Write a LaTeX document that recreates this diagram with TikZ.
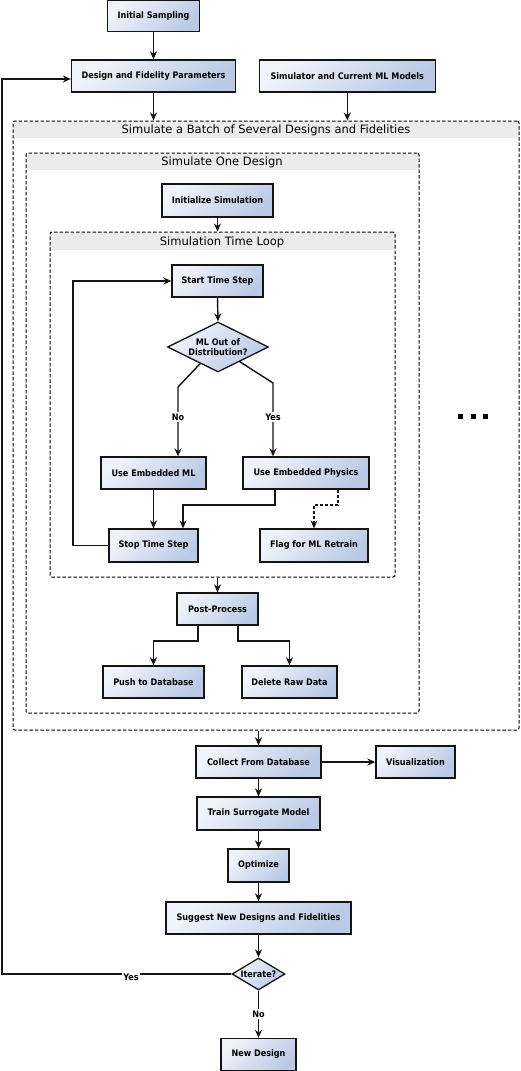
\documentclass[tikz,border=0pt]{standalone}
\usepackage{fontspec}
\setmainfont{DejaVu Sans}
\newfontfamily\nodefont{DejaVu Sans Condensed}
\usetikzlibrary{shapes.geometric,arrows.meta,calc}
\definecolor{boxL}{HTML}{F0F3FA}
\definecolor{boxR}{HTML}{BACAE6}
\definecolor{band}{HTML}{EBEBEB}
\definecolor{edge}{HTML}{141414}
\begin{document}
\begin{tikzpicture}[x=1pt,y=-1pt,
  font=\nodefont\bfseries\fontsize{9}{10.5}\selectfont,
  box/.style={draw=edge, line width=1.3pt, top color=boxL, bottom color=boxR, shading angle=45, inner sep=0pt, align=center, text=black},
  dec/.style={box, shape=diamond},
  grp/.style={draw=black, line width=1pt, dash pattern=on 3.5pt off 2pt, rounded corners=2pt, inner sep=0pt},
  ttl/.style={font=\normalfont\fontsize{11.5}{13}\selectfont, inner sep=0pt},
  arr/.style={draw=edge, line width=1.4pt, -{Stealth[length=8pt,width=7pt]}},
  dsh/.style={line width=1.1pt, dash pattern=on 3pt off 2pt},
  lbl/.style={fill=white, inner sep=1.5pt}
]
\useasboundingbox (0,0) rectangle (520,1071);
\fill[white] (0,0) rectangle (520,1071);

% group bands
\fill[band] (13.5,121.5) rectangle (518.5,138);
\fill[band] (26.5,153.5) rectangle (418.5,170);
\fill[band] (50.5,232.5) rectangle (394.5,250);

% group boxes
\node[grp, minimum width=506pt, minimum height=609pt] (outer) at (266,425.5) {};
\node[grp, minimum width=393pt, minimum height=560pt] (one) at (222.5,433) {};
\node[grp, minimum width=345pt, minimum height=345pt] (loop) at (222.5,404.5) {};
\node[ttl] (outerT) at (266,130) {Simulate a Batch of Several Designs and Fidelities};
\node[ttl] (oneT) at (222,162) {Simulate One Design};
\node[ttl] (loopT) at (222,242) {Simulation Time Loop};

% top boxes
\node[box, minimum width=92pt, minimum height=31pt] (init) at (153.5,16) {Initial Sampling};
\node[box, minimum width=164pt, minimum height=32pt] (dfp) at (153.5,76) {Design and Fidelity Parameters};
\node[box, minimum width=176pt, minimum height=32pt] (sim) at (347.3,76) {Simulator and Current ML Models};

% inside
\node[box, minimum width=111pt, minimum height=33pt] (initsim) at (217.5,200.5) {Initialize Simulation};
\node[box, minimum width=91pt, minimum height=32pt] (start) at (217.5,281) {Start Time Step};
\node[dec, minimum width=101pt, minimum height=50pt, shape aspect=2] (dia) at (218,347) {ML Out of\\Distribution?};
\node[box, minimum width=105pt, minimum height=32pt] (ml) at (153.5,473) {Use Embedded ML};
\node[box, minimum width=126pt, minimum height=32pt] (phys) at (306,473) {Use Embedded Physics};
\node[box, minimum width=89pt, minimum height=33pt] (stop) at (153.5,545.5) {Stop Time Step};
\node[box, minimum width=108pt, minimum height=33pt] (flag) at (314,545.5) {Flag for ML Retrain};
\node[box, minimum width=81pt, minimum height=32pt] (post) at (217.5,609) {Post-Process};
\node[box, minimum width=101pt, minimum height=32pt] (push) at (153.5,682) {Push to Database};
\node[box, minimum width=95pt, minimum height=32pt] (del) at (289.5,682) {Delete Raw Data};

% bottom
\node[box, minimum width=125pt, minimum height=32pt] (collect) at (258.5,762) {Collect From Database};
\node[box, minimum width=79pt, minimum height=32pt] (vis) at (415.5,762) {Visualization};
\node[box, minimum width=123pt, minimum height=33pt] (train) at (258.5,813.5) {Train Surrogate Model};
\node[box, minimum width=61pt, minimum height=33pt] (opt) at (258.5,865.5) {Optimize};
\node[box, minimum width=185pt, minimum height=32pt] (sug) at (258.5,918) {Suggest New Designs and Fidelities};
\node[dec, minimum width=53pt, minimum height=32pt, shape aspect=1.66] (iter) at (258.5,974) {Iterate?};
\node[box, minimum width=75pt, minimum height=32pt] (new) at (258.5,1054.5) {New Design};

% dots
\fill[black] (458,414) rectangle (463,419);
\fill[black] (471,414) rectangle (476,419);
\fill[black] (483,414) rectangle (488,419);

% connectors
\draw[arr] (init.south) -- (dfp.north);
\draw[arr] (dfp.south) -- (dfp.south |- outer.north);
\draw[arr] (sim.south) -- (sim.south |- outer.north);
\draw[arr] (initsim.south) -- (initsim.south |- loop.north);
\draw[arr] (start.south) -- (dia.north);

\coordinate (nb) at (178,387);
\coordinate (yb) at (273,383);
\draw[arr] (dia.223) -- (nb) -- (nb |- ml.north);
\draw[arr] (dia.326) -- (yb) -- (yb |- phys.north);
\node[lbl] (nolbl) at (178,417) {No};
\node[lbl] (yeslbl) at (273,417) {Yes};

\draw[arr] (ml.south) -- (stop.north);
\coordinate (p1) at (275,505);
\coordinate (p2) at (183,505);
\draw[arr, line width=1.1pt] (phys.south -| p1) -- (p1) -- (p2) -- (p2 |- stop.north);
\coordinate (f1) at (338,505);
\draw[arr, dsh] (phys.south -| f1) -- (f1) -| (flag.north);
\coordinate (lp) at (73,545.5);
\draw[arr] (stop.west) -- (lp) |- (start.west);

\draw[arr] (post.north |- loop.south) -- (post.north);
\coordinate (q1) at (198,641);
\coordinate (q2) at (238,641);
\draw[arr] (post.south -| q1) -- (q1) -| (push.north);
\draw[arr] (post.south -| q2) -- (q2) -| (del.north);

\draw[arr] (collect.north |- outer.south) -- (collect.north);
\draw[arr] (collect.east) -- (vis.west);
\draw[arr] (collect.south) -- (train.north);
\draw[arr] (train.south) -- (opt.north);
\draw[arr] (opt.south) -- (sug.north);
\draw[arr] (sug.south) -- (iter.north);

\coordinate (yc) at (2,974);
\draw[arr] (iter.west) -- (yc) |- ([yshift=-3pt]dfp.west);
\node[lbl] (yes2) at (131,977) {Yes};
\draw[arr] (iter.south) -- (new.north);
\node[lbl] (no2) at (258.5,1014) {No};
\end{tikzpicture}
\end{document}
